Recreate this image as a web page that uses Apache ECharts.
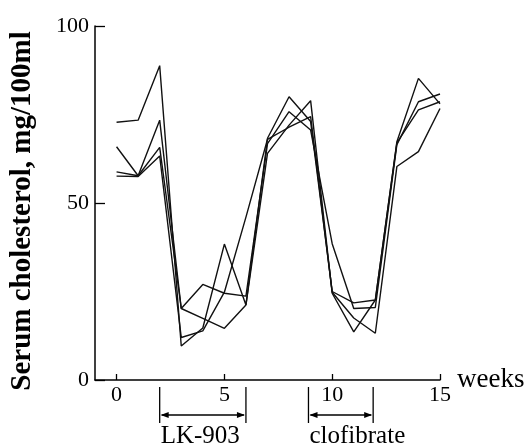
<!DOCTYPE html>
<html>
<head>
<meta charset="utf-8">
<script src="https://cdn.jsdelivr.net/npm/echarts@6/dist/echarts.min.js"></script>
<style>
html,body{margin:0;padding:0;background:#fff;}
#chart{width:531px;height:444px;}
</style>
</head>
<body>
<div id="chart"></div>
<script>
const weeks = [0,1,2,3,4,5,6,7,8,9,10,11,12,13,14,15];
const subject1 = [72.8,73.4,88.8,9.6,14.7,38.4,21.2,68.3,80.0,73.0,25.0,21.8,22.6,67.3,85.2,78.0];
const subject2 = [65.9,57.7,73.4,20.2,27.0,24.5,23.7,66.8,75.8,70.6,38.5,20.2,20.5,66.5,78.6,80.8];
const subject3 = [58.8,57.7,65.7,20.2,17.4,14.6,21.2,64.0,72.0,78.9,24.5,13.6,22.6,67.0,76.3,78.6];
const subject4 = [57.6,57.5,63.3,12.0,13.9,24.8,46.0,68.0,71.4,74.4,24.8,17.5,13.2,60.3,64.5,76.7];
const xTickValues = [0,5,10,15];
const yTickValues = [0,50,100];
const lkPeriod = [2, 6];
const clofibratePeriod = [8.9, 11.9];

const FONT = 'Liberation Serif';
const chart = echarts.init(document.getElementById('chart'), null, {renderer:'canvas'});

function mk(vals){
  return {
    type:'line', data: weeks.map((w,i)=>[w, vals[i]]),
    symbol:'none', lineStyle:{color:'#111', width:1.4}, animation:false
  };
}

chart.setOption({
  animation:false,
  backgroundColor:'#fff',
  grid:{left:95, right:91, top:26, bottom:64, containLabel:false},
  xAxis:{
    type:'value', min:-1, max:15,
    axisLine:{show:true, onZero:false, lineStyle:{color:'#000', width:1.5}},
    axisTick:{show:true, inside:true, length:6, customValues:xTickValues, lineStyle:{color:'#000', width:1.3}},
    axisLabel:{customValues:xTickValues, color:'#000', fontFamily:FONT, fontSize:22, margin:4},
    splitLine:{show:false},
    name:'weeks', nameLocation:'end', nameGap:17,
    nameTextStyle:{color:'#000', fontFamily:FONT, fontSize:27, padding:[24,0,0,0]}
  },
  yAxis:{
    type:'value', min:0, max:100, interval:50,
    axisLine:{show:true, onZero:false, lineStyle:{color:'#000', width:1.5}},
    axisTick:{show:true, inside:true, length:10, lineStyle:{color:'#000', width:1.3}},
    axisLabel:{color:'#000', fontFamily:FONT, fontSize:22, margin:6,
      formatter:v=>yTickValues.includes(v)?String(v):''},
    splitLine:{show:false},
    name:'Serum cholesterol, mg/100ml', nameLocation:'middle', nameGap:58, nameRotate:90,
    nameTextStyle:{color:'#000', fontFamily:FONT, fontSize:29, fontWeight:'bold', padding:[0,16,0,0]}
  },
  series:[mk(subject1), mk(subject2), mk(subject3), mk(subject4)]
});

function bracket(period, label){
  const a = chart.convertToPixel({gridIndex:0}, [period[0], 0]);
  const b = chart.convertToPixel({gridIndex:0}, [period[1], 0]);
  const y0 = a[1];
  const els = [];
  const ls = {stroke:'#000', lineWidth:1.3};
  els.push({type:'line', shape:{x1:a[0], y1:y0+7, x2:a[0], y2:y0+43}, style:ls});
  els.push({type:'line', shape:{x1:b[0], y1:y0+7, x2:b[0], y2:y0+43}, style:ls});
  const ay = y0+35;
  els.push({type:'line', shape:{x1:a[0]+2, y1:ay, x2:b[0]-2, y2:ay}, style:ls});
  els.push({type:'polygon', shape:{points:[[a[0]+1,ay],[a[0]+9,ay-3],[a[0]+9,ay+3]]}, style:{fill:'#000'}});
  els.push({type:'polygon', shape:{points:[[b[0]-1,ay],[b[0]-9,ay-3],[b[0]-9,ay+3]]}, style:{fill:'#000'}});
  els.push({type:'text', x:a[0]+1, y:y0+44, style:{text:label, fill:'#000', font:'25px "Liberation Serif"', textAlign:'left', textVerticalAlign:'top'}});
  return els;
}

chart.setOption({graphic:{elements:[...bracket(lkPeriod,'LK-903'), ...bracket(clofibratePeriod,'clofibrate')]}});
</script>
</body>
</html>
